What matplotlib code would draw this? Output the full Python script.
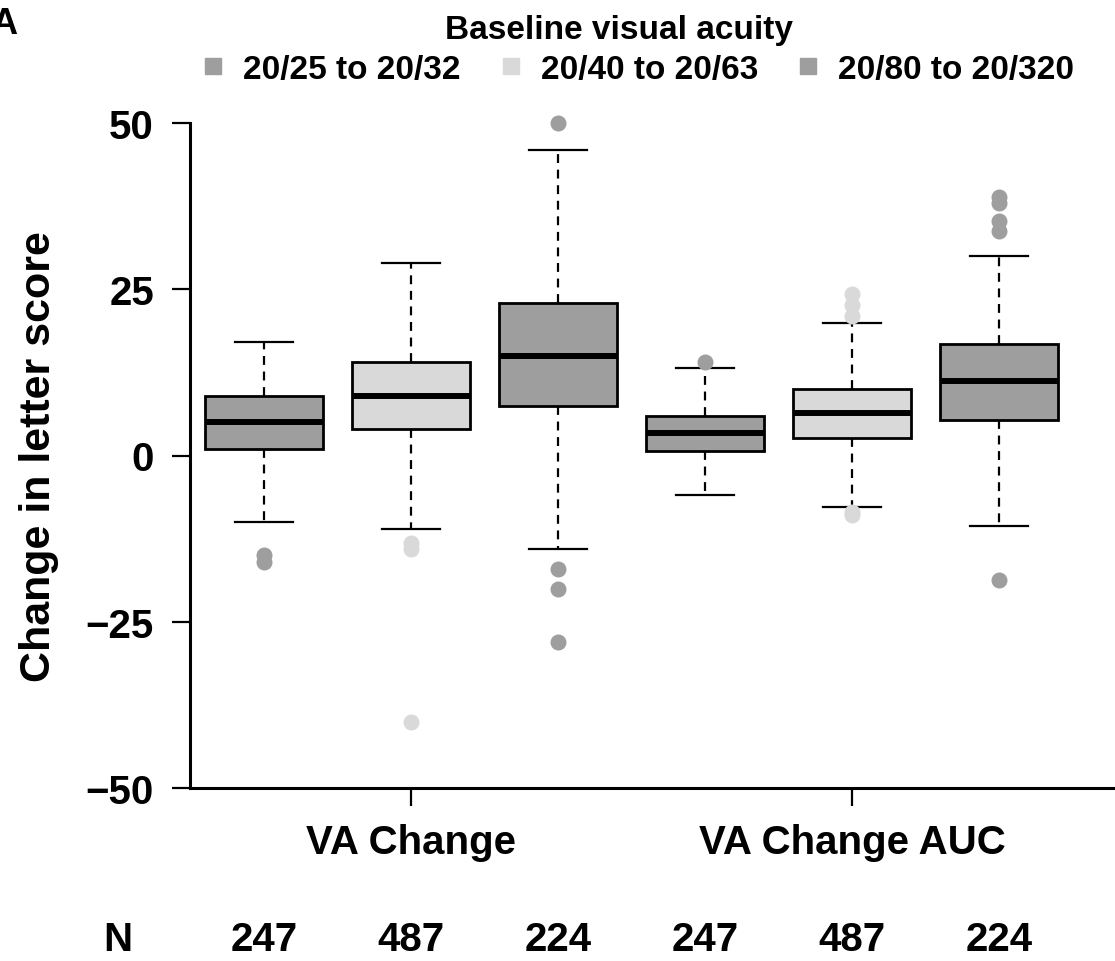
import matplotlib
matplotlib.use("Agg")
import matplotlib.pyplot as plt
from matplotlib.lines import Line2D

plt.rcParams['font.family'] = ['Liberation Sans', 'DejaVu Sans']
plt.rcParams['font.weight'] = 'bold'

# data
groups = ['20/25 to 20/32', '20/40 to 20/63', '20/80 to 20/320']
outcomes = ['VA Change', 'VA Change AUC']
n_counts = [247, 487, 224, 247, 487, 224]
whislo = [-10, -11, -14, -6, -7.8, -10.6]
q1 = [1, 4, 7.5, 0.7, 2.7, 5.4]
med = [5, 9, 15, 3.4, 6.4, 11.2]
q3 = [9, 14, 23, 6, 10, 16.8]
whishi = [17, 29, 46, 13.2, 20, 30]
fliers = [
    [-15, -16],
    [-13.1, -14.1, -40],
    [50, -17, -20, -28],
    [14],
    [24.3, 22.6, 21, -8.5, -9.0],
    [38.8, 38.0, 35.2, 33.8, -18.7],
]

dark = '#9e9e9e'
light = '#d9d9d9'
colors = [dark, light, dark, dark, light, dark]
positions = [1, 2, 3, 4, 5, 6]

fig = plt.figure(figsize=(11.15, 9.62), dpi=100)
ax = fig.add_axes([190 / 1115, 173 / 962, 923 / 1115, 665 / 962])

for i in range(6):
    st = dict(whislo=whislo[i], q1=q1[i], med=med[i], q3=q3[i],
              whishi=whishi[i], fliers=fliers[i])
    ax.bxp([st], positions=[positions[i]], widths=0.8, patch_artist=True,
           boxprops=dict(facecolor=colors[i], edgecolor='black', linewidth=2.0),
           medianprops=dict(color='black', linewidth=4.3, solid_capstyle='butt'),
           whiskerprops=dict(color='black', linewidth=1.6, linestyle=(0, (4, 3))),
           capprops=dict(color='black', linewidth=1.6),
           capwidths=0.4,
           flierprops=dict(marker='o', markerfacecolor=colors[i],
                           markeredgecolor=colors[i], markersize=10.5,
                           linestyle='none', clip_on=False),
           manage_ticks=False)

ax.set_xlim(0.497, 6.776)
ax.set_ylim(-50, 50)
ax.set_yticks([-50, -25, 0, 25, 50])
ax.set_yticklabels(['\u221250', '\u221225', '0', '25', '50'])
ax.set_xticks([2, 5])
ax.set_xticklabels(outcomes)
ax.tick_params(axis='y', length=13, width=1.6, labelsize=29, pad=13)
ax.tick_params(axis='x', length=13, width=1.6, labelsize=29, pad=12)
for lab in ax.get_xticklabels() + ax.get_yticklabels():
    lab.set_fontweight('bold')

for s in ['top', 'right']:
    ax.spines[s].set_visible(False)
ax.spines['left'].set_linewidth(2.2)
ax.spines['bottom'].set_linewidth(2.2)

ax.set_ylabel('Change in letter score', fontsize=31, fontweight='bold', labelpad=19)

# N row
trans = ax.get_xaxis_transform()
for p, n in zip(positions, n_counts):
    ax.text(p, -0.227, str(n), transform=trans, ha='center', va='center',
            fontsize=29, fontweight='bold', clip_on=False)
fig.text(118 / 1115, 1 - 940 / 962, 'N', ha='center', va='center',
         fontsize=29, fontweight='bold')

# legend
handles = [Line2D([], [], marker='s', linestyle='none', markersize=11.5,
                  markerfacecolor=c, markeredgecolor=c) for c in [dark, light, dark]]
leg = fig.legend(handles, groups, ncol=3,
                 loc='center', bbox_to_anchor=(0.57, 1 - 70 / 962), frameon=False,
                 prop=dict(size=24, weight='bold'), handletextpad=0.4,
                 columnspacing=1.0, handlelength=1.0, borderaxespad=0.0)
fig.text(619 / 1115, 1 - 31 / 962, 'Baseline visual acuity', ha='center',
         va='center', fontsize=24, fontweight='bold')

fig.text(-0.008, 0.975, 'A', fontsize=26, fontweight='bold', va='center')

fig.savefig('out.png', dpi=100)
